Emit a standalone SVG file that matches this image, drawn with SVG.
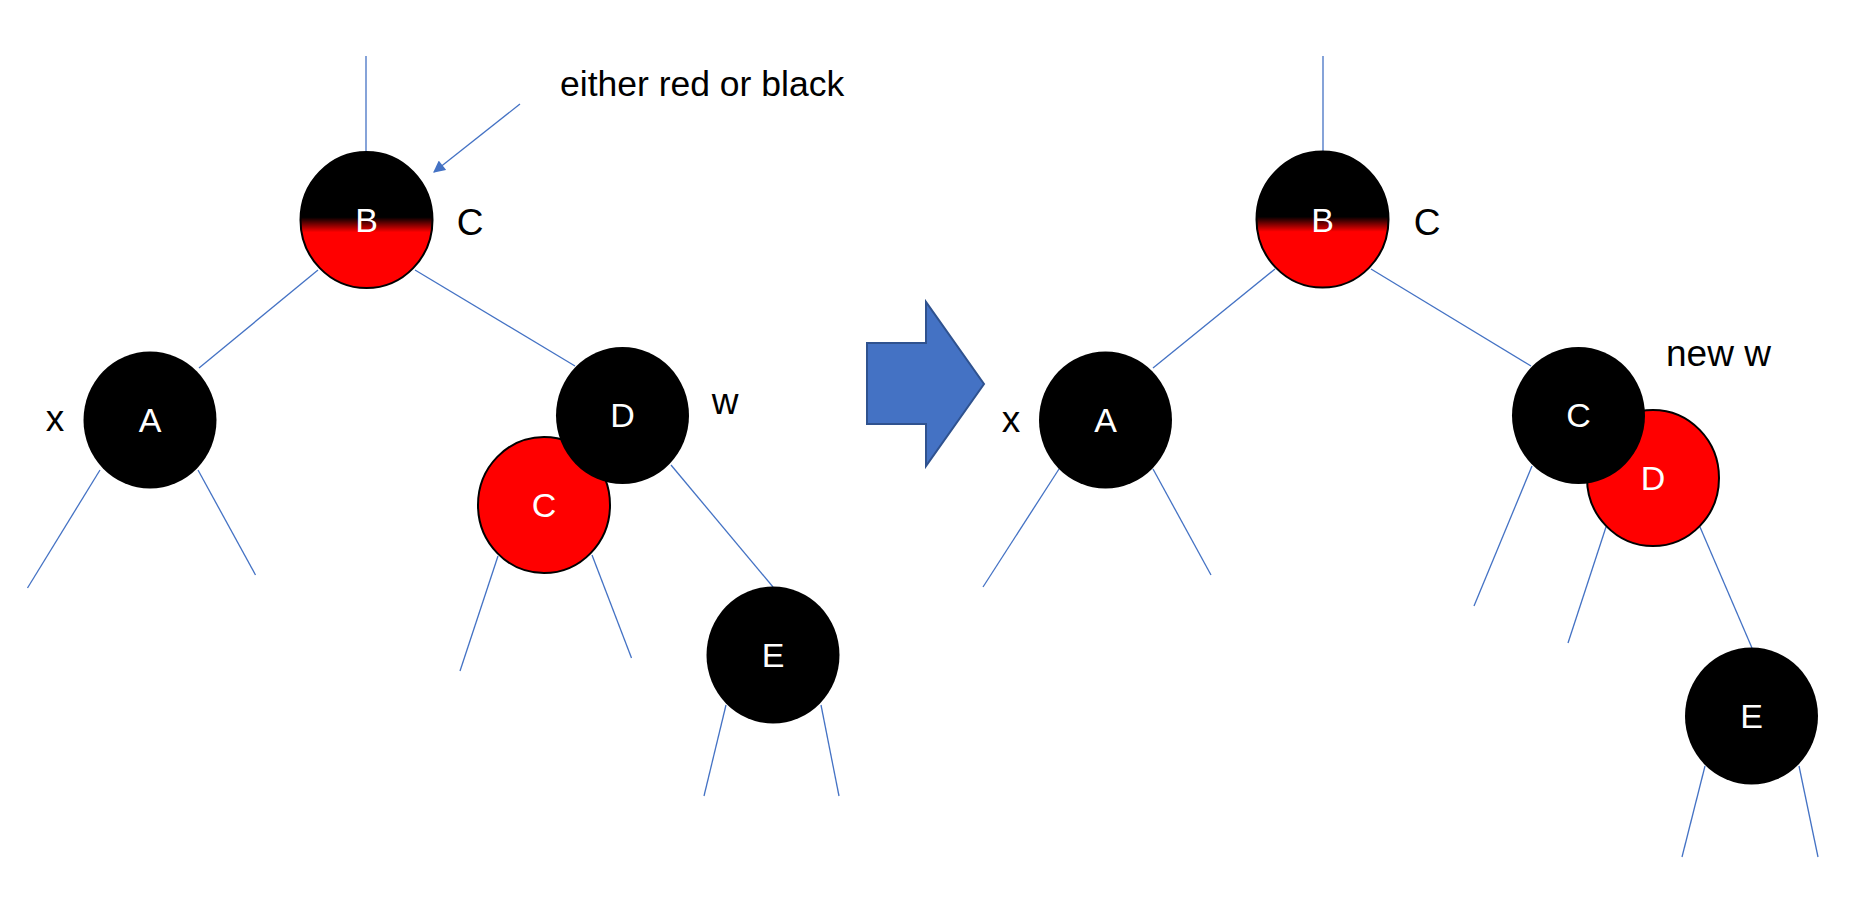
<svg xmlns="http://www.w3.org/2000/svg" width="1876" height="898" viewBox="0 0 1876 898">
<defs>
<linearGradient id="br" x1="0" y1="0" x2="0" y2="1">
<stop offset="0" stop-color="#000"/>
<stop offset="0.48" stop-color="#000"/>
<stop offset="0.59" stop-color="#f00"/>
<stop offset="1" stop-color="#f00"/>
</linearGradient>
<marker id="ah" viewBox="0 0 10 10" refX="9" refY="5" markerWidth="13" markerHeight="12" markerUnits="userSpaceOnUse" orient="auto">
<path d="M0,0 L10,5 L0,10 z" fill="#4472C4"/>
</marker>
</defs>
<style>
.e{stroke:#4472C4;stroke-width:1.3;fill:none}
.blk{fill:#000}
.red{fill:#f00;stroke:#000;stroke-width:2}
.mix{fill:url(#br);stroke:#000;stroke-width:2}
.nl{font-family:"Liberation Sans",Arial,sans-serif;font-size:34px;fill:#fff;text-anchor:middle}
.lb{font-family:"Liberation Sans",Arial,sans-serif;font-size:37px;fill:#000}
.an{font-family:"Liberation Sans",Arial,sans-serif;font-size:35.5px;fill:#000}
</style>
<rect width="1876" height="898" fill="#fff"/>
<g id="connectors">
<line class="e" x1="366" y1="56" x2="366" y2="152"/>
<line class="e" x1="318" y1="270" x2="199" y2="368"/>
<line class="e" x1="415" y1="270" x2="575" y2="366"/>
<line class="e" x1="100" y1="470" x2="27.5" y2="588"/>
<line class="e" x1="198" y1="470" x2="255.5" y2="575"/>
<line class="e" x1="498" y1="556" x2="460" y2="671"/>
<line class="e" x1="592" y1="555" x2="631.5" y2="658"/>
<line class="e" x1="671" y1="465" x2="773" y2="587"/>
<line class="e" x1="726" y1="705" x2="704" y2="796"/>
<line class="e" x1="821" y1="705" x2="839" y2="796"/>
<line class="e" x1="1323" y1="56" x2="1323" y2="152"/>
<line class="e" x1="1275" y1="269" x2="1153" y2="368"/>
<line class="e" x1="1371" y1="269" x2="1531" y2="366"/>
<line class="e" x1="1059" y1="469" x2="983" y2="587"/>
<line class="e" x1="1153" y1="469" x2="1211" y2="575"/>
<line class="e" x1="1532" y1="466" x2="1474" y2="606"/>
<line class="e" x1="1606" y1="527" x2="1568" y2="643"/>
<line class="e" x1="1700" y1="527" x2="1752" y2="648"/>
<line class="e" x1="1705" y1="766" x2="1682" y2="857"/>
<line class="e" x1="1799" y1="766" x2="1818" y2="857"/>
<line class="e" x1="520" y1="104" x2="434" y2="172" marker-end="url(#ah)"/>
</g>
<g id="annotation">
<text class="an" x="560" y="96">either red or black</text>
</g>
<g id="transform-arrow">
<polygon points="867,343 926,343 926,302 984,384 926,466 926,424 867,424" fill="#4472C4" stroke="#2F528F" stroke-width="2"/>
</g>
<g id="left-B">
<ellipse class="mix" cx="366.5" cy="220" rx="66" ry="68"/>
<text class="nl" x="366.5" y="232">B</text>
<text class="lb" x="470" y="235" text-anchor="middle">C</text>
</g>
<g id="left-A">
<ellipse class="blk" cx="150" cy="420" rx="66.5" ry="68.5"/>
<text class="nl" x="150" y="432">A</text>
<text class="lb" x="55" y="431" text-anchor="middle">x</text>
</g>
<g id="left-C">
<ellipse class="red" cx="544" cy="505" rx="66" ry="68"/>
<text class="nl" x="544" y="517">C</text>
</g>
<g id="left-D">
<ellipse class="blk" cx="622.5" cy="415.5" rx="66.5" ry="68.5"/>
<text class="nl" x="622.5" y="427">D</text>
<text class="lb" x="725" y="414" text-anchor="middle">w</text>
</g>
<g id="left-E">
<ellipse class="blk" cx="773" cy="655" rx="66.5" ry="68.5"/>
<text class="nl" x="773" y="667">E</text>
</g>
<g id="right-B">
<ellipse class="mix" cx="1322.5" cy="219.5" rx="66" ry="68"/>
<text class="nl" x="1322.5" y="232">B</text>
<text class="lb" x="1427" y="235" text-anchor="middle">C</text>
</g>
<g id="right-A">
<ellipse class="blk" cx="1105.5" cy="420" rx="66.5" ry="68.5"/>
<text class="nl" x="1105.5" y="432">A</text>
<text class="lb" x="1011" y="432" text-anchor="middle">x</text>
</g>
<g id="right-D">
<ellipse class="red" cx="1653" cy="478" rx="66" ry="68"/>
<text class="nl" x="1653" y="490">D</text>
</g>
<g id="right-C">
<ellipse class="blk" cx="1578.5" cy="415.5" rx="66.5" ry="68.5"/>
<text class="nl" x="1578.5" y="427">C</text>
<text class="lb" x="1666" y="366">new w</text>
</g>
<g id="right-E">
<ellipse class="blk" cx="1751.5" cy="716" rx="66.5" ry="68.5"/>
<text class="nl" x="1751.5" y="728">E</text>
</g>
</svg>
